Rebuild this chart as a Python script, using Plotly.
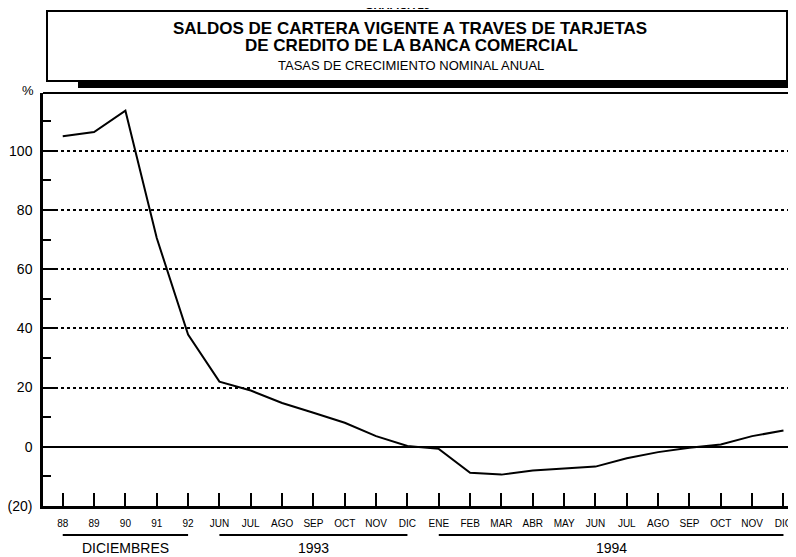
import plotly.graph_objects as go

# categorias del eje x
etiquetas = ["88", "89", "90", "91", "92",
             "JUN", "JUL", "AGO", "SEP", "OCT", "NOV", "DIC",
             "ENE", "FEB", "MAR", "ABR", "MAY", "JUN", "JUL", "AGO", "SEP", "OCT", "NOV", "DIC"]
# tasas de crecimiento nominal anual (%)
tasas = [104.9, 106.3, 113.5, 70.5, 37.9,
         22.0, 19.0, 14.8, 11.5, 8.1, 3.6, 0.3,
         -0.7, -8.8, -9.4, -8.0, -7.3, -6.7, -3.9, -1.8, -0.3, 0.8, 3.6, 5.5]
y_mayores = [-20, 0, 20, 40, 60, 80, 100]
y_etiquetas = ["(20)", "0", "20", "40", "60", "80", "100"]
y_menores = [-10, 10, 30, 50, 70, 90, 110]
# grupos: (texto, primera categoria, ultima categoria)
grupos = [("DICIEMBRES", 0, 4), ("1993", 5, 11), ("1994", 12, 23)]

# la pagina deja 8px de margen en el body: la figura se achica en esa medida
OFF = 8
W, H = 796 - OFF, 557 - OFF
# area de grafica en coordenadas de la ventana
X0, X1, Y0, Y1 = 43, 796, 93, 506
FONT = "Arial, Liberation Sans, sans-serif"


def px(x):
    return (x - X0) / (X1 - X0)


def py(y):
    return (Y1 - y) / (Y1 - Y0)


def texto(t, x, y, size, xref="paper"):
    return dict(text=t, x=x, y=py(y), xref=xref, yref="paper", showarrow=False,
                xanchor="center", yanchor="middle",
                font=dict(family=FONT, size=size, color="black"))


x = list(range(len(etiquetas)))

fig = go.Figure()
fig.add_trace(go.Scatter(x=x, y=tasas, mode="lines",
                         line=dict(color="black", width=2),
                         showlegend=False, hoverinfo="skip"))

fig.update_xaxes(range=[-0.63, 23.4], tickvals=x, ticktext=etiquetas,
                 ticks="inside", ticklen=13, tickwidth=2, tickcolor="black",
                 showline=True, linecolor="black", linewidth=2.5,
                 showgrid=False, zeroline=False, ticklabelstandoff=6,
                 tickfont=dict(family=FONT, size=10, color="black"))
fig.update_yaxes(range=[-20, 119.5], tickvals=y_mayores, ticktext=y_etiquetas,
                 ticks="inside", ticklen=14, tickwidth=2, tickcolor="black",
                 showline=True, linecolor="black", linewidth=2.5,
                 showgrid=True, gridcolor="black", gridwidth=1.5, griddash="dot",
                 zeroline=True, zerolinecolor="black", zerolinewidth=2,
                 ticklabelstandoff=5,
                 tickfont=dict(family=FONT, size=14, color="black"),
                 minor=dict(tickvals=y_menores, ticks="inside", ticklen=8,
                            tickwidth=2, tickcolor="black", showgrid=False))

shapes = [
    # borde superior del area de grafica
    dict(type="line", xref="paper", yref="paper", x0=0, x1=1, y0=1, y1=1,
         line=dict(color="black", width=2)),
    # sombra del recuadro del titulo
    dict(type="rect", xref="paper", yref="paper", x0=px(78), x1=px(800),
         y0=py(88), y1=py(17), fillcolor="black", line=dict(width=0)),
    # recuadro del titulo
    dict(type="rect", xref="paper", yref="paper", x0=px(47), x1=px(787),
         y0=py(81), y1=py(11), fillcolor="white",
         line=dict(color="black", width=2)),
]
annotations = [
    texto("<b>GRAFICA 25</b>", px(397), 5, 11),
    texto("<b>SALDOS DE CARTERA VIGENTE A TRAVES DE TARJETAS</b>", px(410), 28.5, 17),
    texto("<b>DE CREDITO DE LA BANCA COMERCIAL</b>", px(411), 45.5, 17),
    texto("TASAS DE CRECIMIENTO NOMINAL ANUAL", px(411), 66, 13),
    texto("%", px(28), 91, 13),
]
for t, a, b in grupos:
    shapes.append(dict(type="line", xref="x", yref="paper", x0=a, x1=b,
                       y0=py(535), y1=py(535),
                       line=dict(color="black", width=2)))
    annotations.append(texto(t, (a + b) / 2, 548, 14, xref="x"))

fig.update_layout(width=W, height=H,
                  margin=dict(l=X0 - OFF, r=0, t=Y0 - OFF, b=557 - Y1),
                  plot_bgcolor="white", paper_bgcolor="white",
                  shapes=shapes, annotations=annotations)

fig.write_html("out.html")
